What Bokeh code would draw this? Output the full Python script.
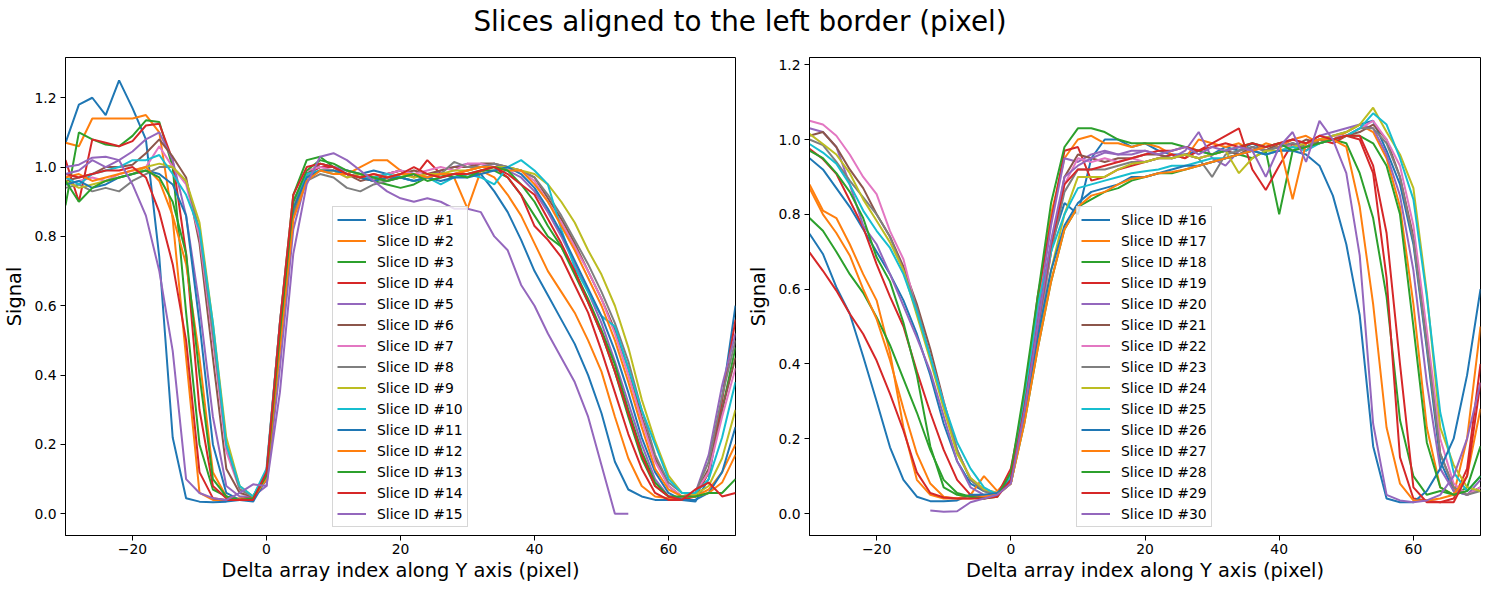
import numpy as np
from bokeh.plotting import figure
from bokeh.models import Div, FixedTicker, Range1d, NumeralTickFormatter, CustomJSTickFormatter
from bokeh.layouts import column, row
from bokeh.embed import file_html
from bokeh.resources import INLINE

TITLE = "Slices aligned to the left border (pixel)"
XLABEL = "Delta array index along Y axis (pixel)"
YLABEL = "Signal"

# x grid (pixel index offsets)
X = [-30, -28, -26, -24, -22, -20, -18, -16, -14, -12, -10, -8, -6, -4, -2,
     0, 2, 4, 6, 8, 10, 12, 14, 16, 18, 20, 22, 24, 26, 28,
     30, 32, 34, 36, 38, 40, 42, 44, 46, 48, 50, 52, 54, 56, 58,
     60, 62, 64, 66, 68, 70]

LEFT_IDS = list(range(1, 16))
RIGHT_IDS = list(range(16, 31))

s01 = [1.07, 1.18, 1.20, 1.15, 1.25, 1.17, 1.08, 0.74, 0.22, 0.045, 0.035, 0.033, 0.035, 0.04, 0.05,
       0.10, 0.52, 0.88, 0.98, 1.00, 1.00, 0.99, 0.98, 0.99, 0.98, 0.99, 0.98, 0.97, 0.98, 0.97,
       0.98, 0.98, 0.93, 0.87, 0.79, 0.70, 0.63, 0.56, 0.49, 0.40, 0.29, 0.15, 0.07, 0.05, 0.04,
       0.04, 0.04, 0.035, 0.10, 0.33, 0.60]
s02 = [1.07, 1.06, 1.14, 1.14, 1.14, 1.14, 1.15, 1.10, 0.85, 0.45, 0.06, 0.04, 0.04, 0.045, 0.05,
       0.11, 0.50, 0.87, 0.97, 0.99, 0.99, 0.98, 1.00, 1.02, 1.02, 0.99, 0.97, 0.98, 0.98, 0.97,
       0.88, 0.99, 0.97, 0.92, 0.86, 0.78, 0.70, 0.64, 0.58, 0.50, 0.41, 0.28, 0.16, 0.08, 0.05,
       0.045, 0.045, 0.05, 0.07, 0.12, 0.20]
s03 = [0.89, 1.10, 1.08, 1.065, 1.06, 1.09, 1.135, 1.13, 1.00, 0.58, 0.20, 0.07, 0.05, 0.04, 0.05,
       0.12, 0.55, 0.92, 1.02, 1.03, 1.00, 0.98, 0.97, 0.96, 0.95, 0.94, 0.95, 0.97, 0.98, 0.97,
       0.98, 0.99, 0.99, 0.97, 0.92, 0.86, 0.80, 0.77, 0.69, 0.61, 0.52, 0.41, 0.28, 0.16, 0.08,
       0.05, 0.045, 0.05, 0.12, 0.30, 0.48]
s04 = [1.02, 0.90, 1.08, 1.07, 1.06, 1.075, 1.12, 1.125, 1.02, 0.75, 0.30, 0.08, 0.045, 0.04, 0.05,
       0.10, 0.50, 0.88, 0.98, 1.00, 1.00, 0.98, 0.97, 0.96, 0.98, 0.99, 0.97, 1.02, 0.98, 0.98,
       0.99, 1.00, 1.00, 0.97, 0.92, 0.83, 0.79, 0.74, 0.66, 0.58, 0.47, 0.35, 0.23, 0.13, 0.06,
       0.04, 0.04, 0.05, 0.12, 0.33, 0.56]
s05 = [1.00, 1.007, 1.027, 1.03, 1.02, 1.045, 1.08, 1.10, 1.02, 0.86, 0.60, 0.28, 0.08, 0.05, 0.05,
       0.08, 0.42, 0.82, 0.97, 1.01, 1.00, 0.99, 0.98, 0.97, 0.96, 0.97, 0.98, 0.97, 0.99, 1.00,
       1.01, 1.00, 1.01, 0.99, 0.97, 0.93, 0.87, 0.80, 0.72, 0.64, 0.55, 0.44, 0.32, 0.20, 0.10,
       0.05, 0.045, 0.06, 0.17, 0.37, 0.52]
s06 = [0.96, 0.97, 0.98, 1.00, 1.00, 1.007, 1.04, 1.08, 1.03, 0.97, 0.78, 0.45, 0.13, 0.06, 0.05,
       0.10, 0.48, 0.87, 0.98, 1.01, 1.00, 0.98, 0.96, 0.97, 0.96, 0.98, 0.99, 0.98, 0.99, 1.00,
       1.00, 1.01, 1.01, 1.00, 0.99, 0.97, 0.91, 0.85, 0.78, 0.70, 0.62, 0.53, 0.42, 0.28, 0.16,
       0.08, 0.05, 0.06, 0.13, 0.30, 0.45]
s07 = [0.95, 0.96, 0.97, 0.96, 0.98, 0.99, 1.00, 1.06, 1.00, 0.95, 0.80, 0.50, 0.18, 0.07, 0.05,
       0.12, 0.55, 0.90, 0.99, 1.00, 0.99, 0.97, 0.98, 0.97, 0.98, 0.99, 0.98, 0.99, 1.00, 0.99,
       1.01, 1.01, 1.00, 0.99, 0.99, 0.96, 0.90, 0.84, 0.77, 0.70, 0.62, 0.52, 0.40, 0.27, 0.15,
       0.08, 0.05, 0.06, 0.12, 0.28, 0.42]
s08 = [0.94, 0.95, 0.93, 0.94, 0.93, 0.96, 0.98, 1.00, 1.00, 0.96, 0.82, 0.52, 0.20, 0.07, 0.05,
       0.10, 0.50, 0.86, 0.96, 0.98, 0.97, 0.94, 0.93, 0.95, 0.96, 0.97, 0.96, 0.97, 0.98, 1.015,
       1.00, 1.00, 1.01, 1.00, 0.99, 0.97, 0.92, 0.86, 0.79, 0.72, 0.64, 0.55, 0.44, 0.30, 0.17,
       0.09, 0.06, 0.06, 0.15, 0.34, 0.50]
s09 = [0.96, 0.94, 0.95, 0.96, 0.97, 0.98, 1.00, 1.01, 1.00, 0.96, 0.84, 0.55, 0.22, 0.08, 0.05,
       0.10, 0.50, 0.88, 0.97, 0.99, 0.99, 0.97, 0.98, 0.96, 0.97, 0.98, 0.97, 0.98, 0.98, 0.99,
       0.99, 1.00, 1.00, 1.00, 0.99, 0.98, 0.95, 0.90, 0.84, 0.76, 0.69, 0.60, 0.48, 0.33, 0.21,
       0.11, 0.06, 0.055, 0.08, 0.16, 0.30]
s10 = [0.97, 0.95, 0.98, 0.99, 1.00, 1.02, 1.02, 1.035, 0.98, 0.92, 0.82, 0.55, 0.20, 0.08, 0.05,
       0.13, 0.55, 0.90, 0.98, 0.99, 0.98, 0.98, 0.97, 0.97, 0.98, 0.97, 0.96, 0.97, 0.95, 0.97,
       0.98, 0.97, 0.95, 1.00, 1.02, 0.99, 0.95, 0.82, 0.71, 0.64, 0.57, 0.54, 0.42, 0.30, 0.20,
       0.10, 0.06, 0.06, 0.10, 0.22, 0.38]
s11 = [0.95, 0.96, 0.94, 0.95, 0.97, 0.98, 0.99, 0.98, 0.95, 0.86, 0.55, 0.20, 0.06, 0.04, 0.035,
       0.10, 0.50, 0.88, 0.97, 0.99, 0.99, 0.98, 0.97, 0.96, 0.97, 0.97, 0.96, 0.97, 0.96, 0.97,
       0.97, 0.98, 0.99, 1.00, 0.98, 0.94, 0.88, 0.81, 0.73, 0.65, 0.57, 0.47, 0.35, 0.22, 0.12,
       0.06, 0.04, 0.04, 0.06, 0.12, 0.25]
s12 = [0.97, 0.98, 0.96, 0.97, 0.98, 0.99, 1.00, 0.96, 0.86, 0.72, 0.45, 0.12, 0.05, 0.04, 0.045,
       0.10, 0.48, 0.85, 0.96, 0.99, 0.98, 0.98, 0.97, 0.98, 0.97, 0.98, 0.98, 0.97, 0.98, 0.98,
       0.99, 1.00, 1.00, 0.99, 0.99, 0.95, 0.90, 0.83, 0.76, 0.68, 0.60, 0.50, 0.38, 0.25, 0.13,
       0.07, 0.05, 0.05, 0.06, 0.09, 0.17]
s13 = [0.96, 0.90, 0.94, 0.96, 0.97, 0.98, 0.99, 0.97, 0.90, 0.75, 0.40, 0.10, 0.05, 0.04, 0.045,
       0.11, 0.52, 0.90, 0.99, 1.02, 1.01, 0.99, 0.98, 0.97, 0.96, 0.97, 0.98, 0.96, 0.97, 0.98,
       0.97, 0.99, 1.00, 0.99, 0.95, 0.90, 0.83, 0.77, 0.70, 0.62, 0.53, 0.43, 0.30, 0.18, 0.09,
       0.05, 0.05, 0.05, 0.06, 0.06, 0.10]
s14 = [0.98, 0.97, 0.98, 0.99, 0.99, 1.00, 0.97, 0.87, 0.72, 0.50, 0.12, 0.045, 0.04, 0.04, 0.04,
       0.12, 0.55, 0.92, 1.00, 1.01, 1.00, 0.98, 0.97, 0.98, 0.97, 0.98, 1.00, 0.98, 0.97, 0.98,
       0.98, 0.99, 1.00, 0.98, 0.95, 0.92, 0.85, 0.78, 0.70, 0.61, 0.52, 0.41, 0.29, 0.17, 0.08,
       0.05, 0.04, 0.07, 0.09, 0.05, 0.06]
s15 = [0.98, 0.99, 1.02, 1.00, 1.02, 0.95, 0.86, 0.70, 0.47, 0.10, 0.06, 0.045, 0.04, 0.06, 0.085,
       0.08, 0.35, 0.75, 0.95, 1.03, 1.04, 1.02, 0.99, 0.96, 0.93, 0.91, 0.90, 0.91, 0.90, 0.88,
       0.88, 0.87, 0.80, 0.76, 0.66, 0.60, 0.52, 0.45, 0.38, 0.28, 0.14, 0.00, 0.00, None, None,
       None, None, None, None, None, None]

s16 = [0.95, 0.92, 0.87, 0.82, 0.76, 0.70, 0.64, 0.57, 0.48, 0.37, 0.24, 0.14, 0.08, 0.06, 0.055,
       0.10, 0.30, 0.52, 0.72, 0.83, 0.80, 0.95, 1.00, 1.00, 0.98, 0.99, 0.97, 0.96, 0.96, 0.97,
       0.96, 0.98, 0.97, 0.99, 0.97, 0.98, 0.99, 0.98, 1.00, 1.01, 1.02, 1.04, 1.05, 0.97, 0.88,
       0.72, 0.44, 0.14, 0.06, 0.05, 0.07]
s17 = [0.88, 0.81, 0.79, 0.72, 0.64, 0.57, 0.43, 0.23, 0.09, 0.05, 0.04, 0.04, 0.05, 0.10, 0.06,
       0.10, 0.32, 0.56, 0.80, 0.95, 1.00, 1.01, 0.99, 0.99, 0.98, 0.99, 0.98, 0.96, 0.95, 1.00,
       0.99, 0.98, 0.99, 0.97, 0.99, 0.98, 1.00, 1.01, 0.99, 1.00, 1.02, 1.04, 1.02, 0.95, 0.82,
       0.56, 0.23, 0.07, 0.05, 0.20, 0.50]
s18 = [0.79, 0.756, 0.70, 0.64, 0.59, 0.525, 0.45, 0.36, 0.27, 0.17, 0.09, 0.055, 0.045, 0.04, 0.05,
       0.08, 0.24, 0.44, 0.62, 0.76, 0.82, 0.84, 0.86, 0.87, 0.89, 0.90, 0.91, 0.91, 0.92, 0.93,
       0.94, 0.95, 0.96, 0.95, 0.97, 0.80, 0.97, 0.99, 1.00, 1.00, 0.99, 0.91, 0.79, 0.58, 0.25,
       0.10, 0.05, 0.06, 0.05, 0.07, 0.18]
s19 = [0.975, 0.948, 0.908, 0.837, 0.765, 0.667, 0.58, 0.50, 0.38, 0.27, 0.17, 0.09, 0.05, 0.045, 0.05,
       0.12, 0.30, 0.58, 0.78, 0.97, 0.98, 0.89, 0.90, 0.92, 0.93, 0.94, 0.95, 0.96, 0.95, 0.97,
       0.99, 1.01, 1.03, 0.92, 0.865, 0.93, 0.99, 0.97, 1.00, 0.99, 1.01, 1.00, 0.91, 0.63, 0.15,
       0.04, 0.035, 0.03, 0.04, 0.12, 0.40]
s20 = [1.03, 1.02, 0.98, 0.88, 0.77, 0.72, 0.64, 0.555, 0.47, 0.38, 0.26, 0.14, 0.07, 0.05, 0.05,
       0.09, 0.30, 0.53, 0.77, 0.95, 0.94, 0.96, 0.97, 0.96, 0.96, 0.97, 0.96, 0.95, 0.97, 1.02,
       0.95, 0.93, 0.97, 0.98, 0.97, 0.99, 1.00, 0.99, 1.01, 1.02, 1.03, 1.04, 1.03, 0.96, 0.85,
       0.65, 0.35, 0.12, 0.06, 0.05, 0.09]
s21 = [1.01, 1.02, 0.98, 0.92, 0.87, 0.80, 0.74, 0.66, 0.56, 0.44, 0.30, 0.17, 0.09, 0.06, 0.05,
       0.08, 0.26, 0.47, 0.70, 0.90, 0.96, 0.95, 0.94, 0.95, 0.95, 0.96, 0.96, 0.95, 0.96, 0.95,
       0.96, 0.97, 0.96, 0.98, 0.97, 0.99, 0.98, 1.00, 0.99, 1.00, 1.01, 1.02, 1.04, 1.00, 0.90,
       0.74, 0.46, 0.16, 0.07, 0.05, 0.07]
s22 = [1.05, 1.04, 1.01, 0.96, 0.90, 0.854, 0.755, 0.68, 0.54, 0.42, 0.295, 0.165, 0.095, 0.065, 0.055,
       0.08, 0.25, 0.47, 0.70, 0.88, 0.95, 0.94, 0.95, 0.94, 0.95, 0.94, 0.95, 0.95, 0.96, 0.95,
       0.96, 0.97, 0.98, 0.97, 0.98, 0.99, 0.98, 0.99, 1.00, 1.01, 1.01, 1.03, 1.05, 1.00, 0.93,
       0.77, 0.49, 0.20, 0.08, 0.05, 0.07]
s23 = [1.00, 0.985, 0.94, 0.89, 0.845, 0.80, 0.74, 0.65, 0.55, 0.42, 0.29, 0.17, 0.09, 0.06, 0.05,
       0.09, 0.27, 0.49, 0.70, 0.86, 0.92, 0.92, 0.92, 0.93, 0.94, 0.94, 0.95, 0.95, 0.96, 0.95,
       0.90, 0.96, 0.97, 0.98, 0.97, 0.98, 0.99, 0.98, 1.00, 1.00, 1.01, 1.03, 1.03, 0.99, 0.90,
       0.73, 0.45, 0.16, 0.07, 0.05, 0.06]
s24 = [1.015, 0.988, 0.96, 0.91, 0.84, 0.783, 0.725, 0.65, 0.53, 0.41, 0.28, 0.16, 0.095, 0.065, 0.055,
       0.08, 0.25, 0.46, 0.65, 0.80, 0.90, 0.90, 0.90, 0.92, 0.935, 0.94, 0.95, 0.95, 0.96, 0.95,
       0.96, 0.97, 0.91, 0.95, 0.97, 0.97, 0.98, 0.99, 1.00, 1.01, 1.02, 1.04, 1.085, 1.02, 0.96,
       0.87, 0.59, 0.23, 0.13, 0.07, 0.06]
s25 = [0.988, 0.965, 0.935, 0.88, 0.81, 0.756, 0.71, 0.64, 0.54, 0.42, 0.295, 0.19, 0.12, 0.07, 0.05,
       0.10, 0.30, 0.56, 0.70, 0.80, 0.87, 0.88, 0.89, 0.90, 0.91, 0.915, 0.92, 0.93, 0.93, 0.94,
       0.95, 0.95, 0.96, 0.97, 0.96, 0.97, 0.98, 0.97, 0.99, 1.00, 1.01, 1.03, 1.07, 1.04, 0.95,
       0.84, 0.58, 0.27, 0.11, 0.06, 0.10]
s26 = [0.748, 0.694, 0.605, 0.534, 0.42, 0.30, 0.177, 0.09, 0.045, 0.033, 0.033, 0.035, 0.05, 0.05, 0.055,
       0.09, 0.26, 0.47, 0.65, 0.77, 0.83, 0.86, 0.87, 0.88, 0.90, 0.90, 0.91, 0.92, 0.93, 0.93,
       0.94, 0.95, 0.96, 0.97, 0.96, 0.97, 0.97, 0.96, 0.93, 0.85, 0.72, 0.53, 0.18, 0.04, 0.03,
       0.03, 0.06, 0.12, 0.20, 0.37, 0.60]
s27 = [0.87, 0.80, 0.75, 0.69, 0.60, 0.52, 0.41, 0.28, 0.16, 0.08, 0.045, 0.04, 0.04, 0.045, 0.05,
       0.08, 0.24, 0.44, 0.62, 0.76, 0.82, 0.85, 0.86, 0.88, 0.895, 0.90, 0.91, 0.913, 0.92, 0.93,
       0.94, 0.95, 0.96, 0.97, 0.98, 0.99, 0.84, 0.99, 1.00, 1.00, 0.98, 0.82, 0.56, 0.23, 0.08,
       0.035, 0.035, 0.04, 0.05, 0.10, 0.28]
s28 = [0.97, 0.95, 0.91, 0.86, 0.79, 0.685, 0.62, 0.51, 0.37, 0.18, 0.07, 0.05, 0.045, 0.04, 0.045,
       0.11, 0.33, 0.58, 0.83, 0.98, 1.03, 1.03, 1.02, 1.00, 0.99, 0.99, 0.99, 0.99, 0.98, 0.97,
       0.96, 0.97, 0.98, 0.99, 0.98, 0.99, 0.97, 0.98, 0.99, 1.00, 1.01, 1.01, 0.99, 0.93, 0.80,
       0.50, 0.19, 0.07, 0.05, 0.06, 0.10]
s29 = [0.698, 0.649, 0.596, 0.534, 0.48, 0.409, 0.32, 0.222, 0.11, 0.055, 0.043, 0.04, 0.04, 0.04, 0.045,
       0.09, 0.28, 0.50, 0.72, 0.88, 0.92, 0.92, 0.93, 0.94, 0.95, 0.96, 0.97, 0.97, 0.98, 0.97,
       0.98, 0.99, 0.98, 0.99, 0.98, 0.99, 1.00, 0.99, 1.01, 1.00, 1.01, 1.01, 0.93, 0.75, 0.40,
       0.07, 0.03, 0.03, 0.03, 0.10, 0.35]
s30 = [None, None, None, None, None, None, None, None, None, 0.008, 0.005, 0.006, 0.03, 0.04, 0.05,
       0.08, 0.27, 0.50, 0.73, 0.90, 0.93, 0.95, 0.965, 0.96, 0.97, 0.97, 0.96, 0.97, 0.98, 0.96,
       0.98, 0.97, 0.98, 0.97, 0.90, 0.98, 1.02, 0.94, 1.05, 1.00, 0.91, 0.69, 0.24, 0.05, 0.035,
       0.03, 0.035, 0.05, 0.10, 0.20, 0.35]

LEFT_SERIES = [s01, s02, s03, s04, s05, s06, s07, s08, s09, s10, s11, s12, s13, s14, s15]
RIGHT_SERIES = [s16, s17, s18, s19, s20, s21, s22, s23, s24, s25, s26, s27, s28, s29, s30]

COLORS = ["#1f77b4", "#ff7f0e", "#2ca02c", "#d62728", "#9467bd",
          "#8c564b", "#e377c2", "#7f7f7f", "#bcbd22", "#17becf"]

FONT = "DejaVu Sans"


def make_panel(series, ids, ylim, bl, br):
    p = figure(frame_width=670 if bl < 60 else 671, frame_height=478,
               min_border_left=bl, min_border_right=br, min_border_top=13, min_border_bottom=49,
               x_range=Range1d(-30, 70), y_range=Range1d(*ylim),
               output_backend="svg", toolbar_location=None,
               background_fill_color="white", border_fill_color="white")
    xs = np.array(X, dtype=float)
    for k, (sid, vals) in enumerate(zip(ids, series)):
        p.line(xs, np.array(vals, dtype=float), line_color=COLORS[k % 10], line_width=2,
               legend_label=f"Slice ID #{sid}")
    p.xgrid.visible = False
    p.ygrid.visible = False
    p.outline_line_color = "black"
    p.outline_line_width = 1
    p.outline_line_alpha = 1.0
    p.xaxis.ticker = FixedTicker(ticks=[-20, 0, 20, 40, 60])
    p.xaxis.formatter = CustomJSTickFormatter(
        code="return (tick < 0 ? '\u2212' : '') + Math.abs(tick).toFixed(0);")
    p.yaxis.ticker = FixedTicker(ticks=[0.0, 0.2, 0.4, 0.6, 0.8, 1.0, 1.2])
    p.yaxis.formatter = NumeralTickFormatter(format="0.0")
    for ax in (p.xaxis[0], p.yaxis[0]):
        ax.axis_line_color = "black"
        ax.major_tick_line_color = "black"
        ax.major_tick_out = 5
        ax.major_tick_in = 0
        ax.minor_tick_line_color = None
        ax.major_label_text_font = FONT
        ax.major_label_text_font_size = "13.9px"
        ax.major_label_text_color = "black"
        ax.axis_label_text_font = FONT
        ax.axis_label_text_font_size = "19.4px"
        ax.axis_label_text_font_style = "normal"
        ax.axis_label_text_color = "black"
    p.xaxis.axis_label = XLABEL
    p.yaxis.axis_label = YLABEL
    p.xaxis.major_label_standoff = 3
    p.xaxis.axis_label_standoff = 2
    p.yaxis.major_label_standoff = 4
    p.yaxis.axis_label_standoff = 5
    lg = p.legend[0]
    lg.location = (267, 8)
    lg.margin = 0
    lg.padding = 4
    lg.spacing = 4
    lg.glyph_width = 29
    lg.glyph_height = 17
    lg.label_height = 17
    lg.label_standoff = 11
    lg.label_text_font = FONT
    lg.label_text_font_size = "13.9px"
    lg.label_text_color = "black"
    lg.border_line_color = "#cccccc"
    lg.border_line_alpha = 0.8
    lg.background_fill_color = "white"
    lg.background_fill_alpha = 0.8
    return p


p1 = make_panel(LEFT_SERIES, LEFT_IDS, (-0.0627, 1.3161), 59, 9)
p2 = make_panel(RIGHT_SERIES, RIGHT_IDS, (-0.0588, 1.2193), 63, 8)

title = Div(text=TITLE, width=1480, height=44, margin=0,
            styles={"text-align": "center", "font-size": "27.8px", "line-height": "44px",
                    "font-family": FONT, "color": "black", "width": "1480px"})

layout = column(title, row(p1, p2, spacing=0), spacing=0)

open("out.html", "w").write(file_html(layout, INLINE))
